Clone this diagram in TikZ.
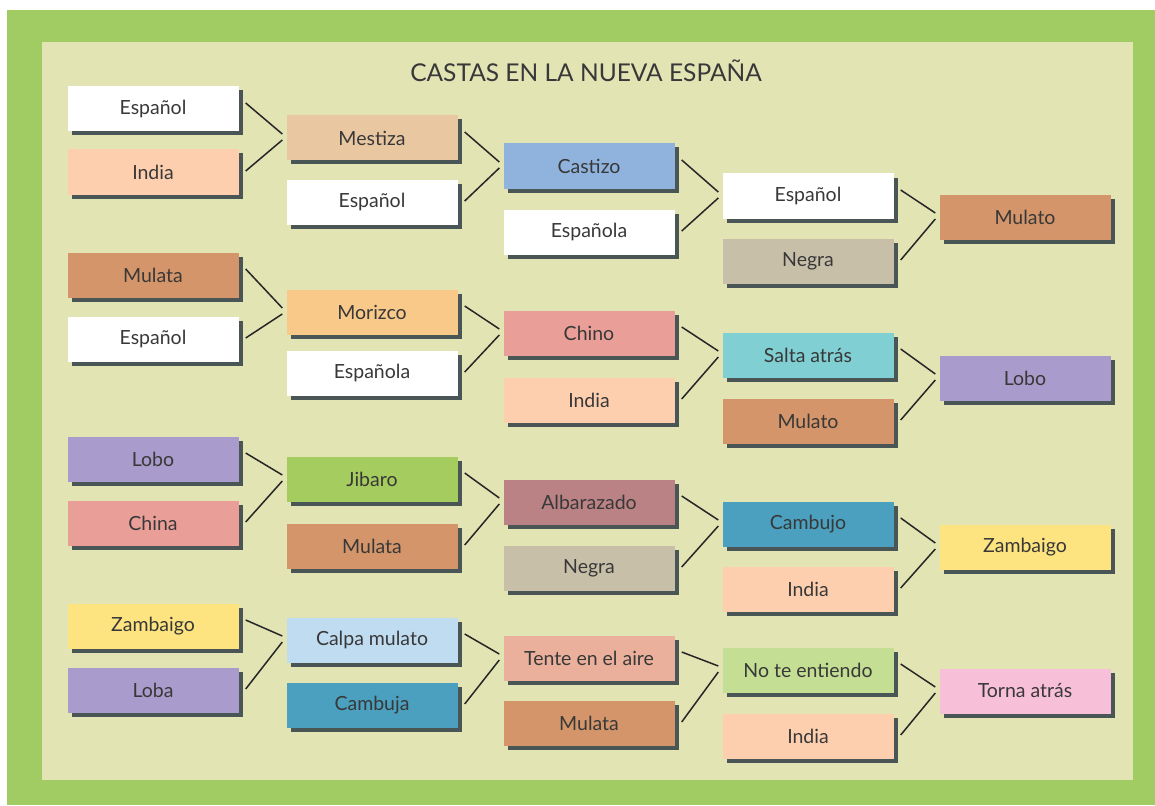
\documentclass[tikz,border=0pt]{standalone}
\usepackage{fontspec}
\setmainfont{Lato}
\usetikzlibrary{shadows}

\definecolor{marco}{HTML}{A1CC63}
\definecolor{panel}{HTML}{E2E4B4}
\definecolor{sombra}{HTML}{4A5656}
\definecolor{texto}{HTML}{383838}
\definecolor{cblanco}{HTML}{FFFFFF}
\definecolor{cindia}{HTML}{FDCFAE}
\definecolor{cmestiza}{HTML}{E9C7A1}
\definecolor{ccastizo}{HTML}{8FB3DD}
\definecolor{cnegra}{HTML}{C8BFA9}
\definecolor{cmulato}{HTML}{D4956A}
\definecolor{cmorizco}{HTML}{F9C98A}
\definecolor{cchino}{HTML}{EA9E98}
\definecolor{csalta}{HTML}{80CFD3}
\definecolor{clobo}{HTML}{A99BCB}
\definecolor{cjibaro}{HTML}{A5CC5E}
\definecolor{calbarazado}{HTML}{BB8285}
\definecolor{ccambujo}{HTML}{4AA0BE}
\definecolor{czambaigo}{HTML}{FDE480}
\definecolor{ccalpa}{HTML}{BFDCF0}
\definecolor{ctente}{HTML}{EAB09B}
\definecolor{cnote}{HTML}{C4DE94}
\definecolor{ctorna}{HTML}{F8C0D8}

\tikzset{
  casta/.style={minimum width=171pt, minimum height=45pt, inner sep=0pt,
    text=texto, font=\fontsize{19.5}{22}\selectfont,
    drop shadow={shadow xshift=4pt, shadow yshift=-4pt, fill=sombra, opacity=1}},
  linea/.style={line width=1.5pt, color=black!85}
}

\begin{document}
\begin{tikzpicture}[x=1pt, y=1pt]
    \useasboundingbox (0,0) rectangle (1155,-805);
    \fill[white] (0,0) rectangle (1155,-805);
    \fill[marco] (7,-10) rectangle (1155,-805);
    \fill[panel] (42,-42) rectangle (1133,-780);

    \node[text=texto, font=\fontsize{24.5}{28}\selectfont] (titulo) at (586,-71) {CASTAS EN LA NUEVA ESPAÑA};

    \node[casta, fill=cblanco] (a1) at (153,-109) {Español};
    \node[casta, fill=cindia] (b1) at (153,-172) {India};
    \node[casta, fill=cmestiza] (c1) at (372,-138) {Mestiza};
    \node[casta, fill=cblanco] (d1) at (372,-202) {Español};
    \node[casta, fill=ccastizo] (e1) at (589,-166) {Castizo};
    \node[casta, fill=cblanco] (f1) at (589,-232) {Española};
    \node[casta, fill=cblanco] (g1) at (808,-196) {Español};
    \node[casta, fill=cnegra] (h1) at (808,-261) {Negra};
    \node[casta, fill=cmulato] (r1) at (1025,-217) {Mulato};

    \node[casta, fill=cmulato] (a2) at (153,-275) {Mulata};
    \node[casta, fill=cblanco] (b2) at (153,-339) {Español};
    \node[casta, fill=cmorizco] (c2) at (372,-312) {Morizco};
    \node[casta, fill=cblanco] (d2) at (372,-373) {Española};
    \node[casta, fill=cchino] (e2) at (589,-333) {Chino};
    \node[casta, fill=cindia] (f2) at (589,-400) {India};
    \node[casta, fill=csalta] (g2) at (808,-355) {Salta atrás};
    \node[casta, fill=cmulato] (h2) at (808,-421) {Mulato};
    \node[casta, fill=clobo] (r2) at (1025,-378) {Lobo};

    \node[casta, fill=clobo] (a3) at (153,-459) {Lobo};
    \node[casta, fill=cchino] (b3) at (153,-523) {China};
    \node[casta, fill=cjibaro] (c3) at (372,-479) {Jibaro};
    \node[casta, fill=cmulato] (d3) at (372,-546) {Mulata};
    \node[casta, fill=calbarazado] (e3) at (589,-502) {Albarazado};
    \node[casta, fill=cnegra] (f3) at (589,-568) {Negra};
    \node[casta, fill=ccambujo] (g3) at (808,-524) {Cambujo};
    \node[casta, fill=cindia] (h3) at (808,-589) {India};
    \node[casta, fill=czambaigo] (r3) at (1025,-547) {Zambaigo};

    \node[casta, fill=czambaigo] (a4) at (153,-626) {Zambaigo};
    \node[casta, fill=clobo] (b4) at (153,-690) {Loba};
    \node[casta, fill=ccalpa] (c4) at (372,-640) {Calpa mulato};
    \node[casta, fill=ccambujo] (d4) at (372,-705) {Cambuja};
    \node[casta, fill=ctente] (e4) at (589,-658) {Tente en el aire};
    \node[casta, fill=cmulato] (f4) at (589,-723) {Mulata};
    \node[casta, fill=cnote] (g4) at (808,-670) {No te entiendo};
    \node[casta, fill=cindia] (h4) at (808,-736) {India};
    \node[casta, fill=ctorna] (r4) at (1025,-691) {Torna atrás};

    \foreach \g in {1,2,3,4} {
        \foreach \p/\q/\m in {a/b/c, c/d/e, e/f/g, g/h/r} {
            \draw[linea] ([xshift=7pt,yshift=6pt]\p\g.east) -- ([xshift=-4pt,yshift=4pt]\m\g.west);
            \draw[linea] ([xshift=7pt,yshift=1pt]\q\g.east) -- ([xshift=-4pt,yshift=-2pt]\m\g.west);
        }
    }
\end{tikzpicture}
\end{document}
